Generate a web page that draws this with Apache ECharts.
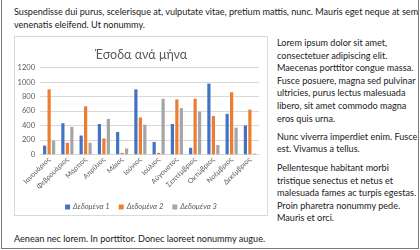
<!DOCTYPE html>
<html><head><meta charset="utf-8">
<script src="https://cdn.jsdelivr.net/npm/echarts@6/dist/echarts.min.js"></script>
<style>
html,body{margin:0;padding:0;background:#fff;}
body{width:420px;height:250px;position:relative;overflow:hidden;font-family:Lato,"Noto Sans",sans-serif;font-size:9.1px;color:#1a1a1a;}
.frame{position:absolute;left:1px;top:-3px;width:418px;height:252px;box-sizing:border-box;border:1px solid #7a7a7a;}
.t{position:absolute;line-height:12.6px;white-space:nowrap;}
.box{position:absolute;left:14px;top:36px;width:254px;height:180px;box-sizing:border-box;border:1px solid #d9d9d9;}
#chart{position:absolute;left:14px;top:36px;width:254px;height:180px;}
</style></head><body>
<div class="frame"></div>
<div class="t" style="left:14px;top:6.4px;">Suspendisse dui purus, scelerisque at, vulputate vitae, pretium mattis, nunc. Mauris eget neque at sem<br>venenatis eleifend. Ut nonummy.</div>
<div class="box"></div>
<div id="chart"></div>
<div class="t" style="left:277px;top:37px;">Lorem ipsum dolor sit amet,<br>consectetuer adipiscing elit.<br>Maecenas porttitor congue massa.<br>Fusce posuere, magna sed pulvinar<br>ultricies, purus lectus malesuada<br>libero, sit amet commodo magna<br>eros quis urna.</div>
<div class="t" style="left:277px;top:130.5px;">Nunc viverra imperdiet enim. Fusce<br>est. Vivamus a tellus.</div>
<div class="t" style="left:277px;top:162px;">Pellentesque habitant morbi<br>tristique senectus et netus et<br>malesuada fames ac turpis egestas.<br>Proin pharetra nonummy pede.<br>Mauris et orci.</div>
<div class="t" style="left:14px;top:232.7px;">Aenean nec lorem. In porttitor. Donec laoreet nonummy augue.</div>
<script>
var chartTitle = "Έσοδα ανά μήνα";
var months = ["Ιανουάριος","Φεβρουάριος","Μάρτιος","Απρίλιος","Μάιος","Ιούνιος","Ιούλιος","Αύγουστος","Σεπτέμβριος","Οκτώβριος","Νοέμβριος","Δεκέμβριος"];
var seriesNames = ["Δεδομένα 1","Δεδομένα 2","Δεδομένα 3"];
var data1 = [120, 430, 260, 420, 310, 900, 170, 420, 90, 980, 560, 400];
var data2 = [900, 160, 665, 220, 20, 510, 20, 760, 770, 530, 860, 620];
var data3 = [190, 380, 160, 490, 80, 410, 770, 640, 590, 130, 370, 10];
var colors = ["#4472C4","#ED7D31","#A5A5A5"];

var font = 'Lato, "Noto Sans", sans-serif';
var chart = echarts.init(document.getElementById('chart'), null, {renderer:'canvas'});
function mk(name, data, i){
  return {name:name, type:'bar', data:data, barWidth:3.2, barGap:'40%',
    itemStyle:{color:colors[i]}, animation:false};
}
chart.setOption({
  animation:false,
  textStyle:{fontFamily:font},
  title:{text:chartTitle, left:'center', top:7,
    textStyle:{fontSize:12.5, fontWeight:'normal', color:'#595959', fontFamily:font}},
  legend:{data:seriesNames, top:162, left:'center', itemWidth:5, itemHeight:5, itemGap:9,
    icon:'rect', textStyle:{fontSize:7.5, color:'#595959', fontStyle:'italic', fontFamily:font, padding:[0,0,0,-2]}},
  grid:{left:26, right:9, top:31.7, bottom:61.7, containLabel:false},
  xAxis:{type:'category', data:months,
    axisLine:{lineStyle:{color:'#d9d9d9'}}, axisTick:{show:false},
    axisLabel:{rotate:45, fontSize:7, color:'#595959', margin:4, interval:0, fontFamily:font}},
  yAxis:{type:'value', min:0, max:1200, interval:200,
    axisLine:{show:false}, axisTick:{show:false},
    splitLine:{lineStyle:{color:'#d9d9d9'}},
    axisLabel:{fontSize:7.5, color:'#595959', margin:5, fontFamily:font, formatter:function(v){return String(v);}}},
  series:[mk(seriesNames[0],data1,0), mk(seriesNames[1],data2,1), mk(seriesNames[2],data3,2)]
});
</script>
</body></html>
